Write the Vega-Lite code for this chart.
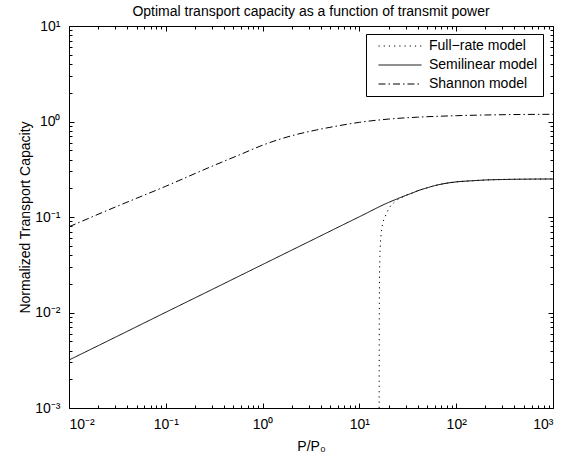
{
  "$schema": "https://vega.github.io/schema/vega-lite/v6.json",
  "width": 484,
  "height": 382,
  "autosize": {"type": "none"},
  "padding": {"left": 69, "top": 26, "right": 21, "bottom": 54},
  "background": "white",
  "title": {"text": "Optimal transport capacity as a function of transmit power", "fontSize": 14, "fontWeight": "normal", "font": "Liberation Sans", "color": "black", "anchor": "middle", "frame": "group", "offset": 0},
  "config": {
    "view": {"stroke": null},
    "font": "Liberation Sans",
    "axis": {"grid": false, "domainColor": "black", "tickColor": "black", "labelColor": "black", "titleColor": "black", "labelFontSize": 14, "titleFontSize": 14, "titleFontWeight": "normal", "labelFont": "Liberation Sans", "titleFont": "Liberation Sans", "domainWidth": 1, "tickWidth": 1}
  },
  "data": {"values": [
    {"model": "Full-rate model", "p": 16.0, "c": 0.001},
    {"model": "Full-rate model", "p": 16.01, "c": 0.002},
    {"model": "Full-rate model", "p": 16.03, "c": 0.005},
    {"model": "Full-rate model", "p": 16.06, "c": 0.01},
    {"model": "Full-rate model", "p": 16.12, "c": 0.02},
    {"model": "Full-rate model", "p": 16.25, "c": 0.035},
    {"model": "Full-rate model", "p": 16.45, "c": 0.05},
    {"model": "Full-rate model", "p": 16.8, "c": 0.068},
    {"model": "Full-rate model", "p": 17.4, "c": 0.085},
    {"model": "Full-rate model", "p": 18.4, "c": 0.1},
    {"model": "Full-rate model", "p": 19.5, "c": 0.115},
    {"model": "Full-rate model", "p": 20.7, "c": 0.128},
    {"model": "Full-rate model", "p": 22.5, "c": 0.14},
    {"model": "Full-rate model", "p": 24.5, "c": 0.151},
    {"model": "Full-rate model", "p": 27, "c": 0.159},
    {"model": "Full-rate model", "p": 30, "c": 0.168},
    {"model": "Full-rate model", "p": 35, "c": 0.178},
    {"model": "Full-rate model", "p": 40, "c": 0.188},
    {"model": "Full-rate model", "p": 50, "c": 0.202},
    {"model": "Full-rate model", "p": 60, "c": 0.213},
    {"model": "Full-rate model", "p": 80, "c": 0.226},
    {"model": "Full-rate model", "p": 100, "c": 0.233},
    {"model": "Full-rate model", "p": 150, "c": 0.24},
    {"model": "Full-rate model", "p": 200, "c": 0.244},
    {"model": "Full-rate model", "p": 300, "c": 0.247},
    {"model": "Full-rate model", "p": 500, "c": 0.249},
    {"model": "Full-rate model", "p": 1000, "c": 0.25},
    {"model": "Shannon model", "p": 0.01, "c": 0.079},
    {"model": "Shannon model", "p": 0.03, "c": 0.127},
    {"model": "Shannon model", "p": 0.1, "c": 0.21},
    {"model": "Shannon model", "p": 0.3, "c": 0.34},
    {"model": "Shannon model", "p": 0.6, "c": 0.455},
    {"model": "Shannon model", "p": 1, "c": 0.565},
    {"model": "Shannon model", "p": 2, "c": 0.71},
    {"model": "Shannon model", "p": 3.6, "c": 0.815},
    {"model": "Shannon model", "p": 6, "c": 0.9},
    {"model": "Shannon model", "p": 10, "c": 0.98},
    {"model": "Shannon model", "p": 20, "c": 1.06},
    {"model": "Shannon model", "p": 40, "c": 1.11},
    {"model": "Shannon model", "p": 100, "c": 1.15},
    {"model": "Shannon model", "p": 200, "c": 1.17},
    {"model": "Shannon model", "p": 500, "c": 1.185},
    {"model": "Shannon model", "p": 1000, "c": 1.19},
    {"model": "Semilinear model", "p": 0.01, "c": 0.00318},
    {"model": "Semilinear model", "p": 0.03, "c": 0.0055},
    {"model": "Semilinear model", "p": 0.1, "c": 0.01006},
    {"model": "Semilinear model", "p": 0.3, "c": 0.0174},
    {"model": "Semilinear model", "p": 1, "c": 0.0318},
    {"model": "Semilinear model", "p": 3, "c": 0.0551},
    {"model": "Semilinear model", "p": 10, "c": 0.1006},
    {"model": "Semilinear model", "p": 20, "c": 0.142},
    {"model": "Semilinear model", "p": 25, "c": 0.156},
    {"model": "Semilinear model", "p": 30, "c": 0.168},
    {"model": "Semilinear model", "p": 35, "c": 0.178},
    {"model": "Semilinear model", "p": 40, "c": 0.188},
    {"model": "Semilinear model", "p": 50, "c": 0.202},
    {"model": "Semilinear model", "p": 60, "c": 0.213},
    {"model": "Semilinear model", "p": 80, "c": 0.226},
    {"model": "Semilinear model", "p": 100, "c": 0.233},
    {"model": "Semilinear model", "p": 150, "c": 0.24},
    {"model": "Semilinear model", "p": 200, "c": 0.244},
    {"model": "Semilinear model", "p": 300, "c": 0.247},
    {"model": "Semilinear model", "p": 500, "c": 0.249},
    {"model": "Semilinear model", "p": 1000, "c": 0.25}
  ]},
  "layer": [
    {
      "mark": {"type": "line", "strokeWidth": 1, "color": "black", "interpolate": "monotone"},
      "encoding": {
        "x": {"field": "p", "type": "quantitative", "scale": {"type": "log", "domain": [0.01, 1000], "nice": false},
          "axis": {"orient": "bottom", "title": "P/P₀", "titlePadding": 8,
            "values": [0.01,0.02,0.03,0.04,0.05,0.06,0.07,0.08,0.09,0.1,0.2,0.3,0.4,0.5,0.6,0.7,0.8,0.9,1,2,3,4,5,6,7,8,9,10,20,30,40,50,60,70,80,90,100,200,300,400,500,600,700,800,900,1000],
            "tickSize": {"condition": {"test": "indexof([0.001,0.01,0.1,1,10,100,1000], datum.value) >= 0", "value": -5}, "value": -3},
            "labelPadding": 14,
            "labelExpr": "datum.value == 0.01 ? '10⁻²' : datum.value == 0.1 ? '10⁻¹' : datum.value == 1 ? '10⁰' : datum.value == 10 ? '10¹' : datum.value == 100 ? '10²' : datum.value == 1000 ? '10³' : ''"}},
        "y": {"field": "c", "type": "quantitative", "scale": {"type": "log", "domain": [0.001, 10], "nice": false},
          "axis": {"orient": "left", "title": "Normalized Transport Capacity", "titlePadding": 2,
            "values": [0.001,0.002,0.003,0.004,0.005,0.006,0.007,0.008,0.009,0.01,0.02,0.03,0.04,0.05,0.06,0.07,0.08,0.09,0.1,0.2,0.3,0.4,0.5,0.6,0.7,0.8,0.9,1,2,3,4,5,6,7,8,9,10],
            "tickSize": {"condition": {"test": "indexof([0.001,0.01,0.1,1,10,100,1000], datum.value) >= 0", "value": -5}, "value": -3},
            "labelPadding": 14,
            "labelExpr": "datum.value == 0.001 ? '10⁻³' : datum.value == 0.01 ? '10⁻²' : datum.value == 0.1 ? '10⁻¹' : datum.value == 1 ? '10⁰' : datum.value == 10 ? '10¹' : ''"}},
        "strokeDash": {"field": "model", "type": "nominal",
          "scale": {"domain": ["Full-rate model", "Semilinear model", "Shannon model"], "range": [[1.2, 4], [1, 0], [7, 3, 1.5, 3]]},
          "legend": {"title": null, "orient": "none", "legendX": 297, "legendY": 8, "symbolType": "stroke", "symbolSize": 1849, "clipHeight": 14, "rowPadding": 5, "padding": 5, "strokeColor": "black", "fillColor": "white", "labelFontSize": 14, "labelFont": "Liberation Sans", "labelColor": "black", "symbolStrokeWidth": 1, "symbolStrokeColor": "black", "symbolOffset": 7, "labelOffset": 7,
            "labelExpr": "datum.label == 'Full-rate model' ? 'Full−rate model' : datum.label"}
        }
      }
    },
    {
      "mark": {"type": "line", "strokeOpacity": 0},
      "encoding": {
        "detail": {"field": "model"},
        "x": {"field": "p", "type": "quantitative", "scale": {"type": "log", "domain": [0.01, 1000], "nice": false},
          "axis": {"orient": "top", "title": null, "labels": false,
            "values": [0.01,0.02,0.03,0.04,0.05,0.06,0.07,0.08,0.09,0.1,0.2,0.3,0.4,0.5,0.6,0.7,0.8,0.9,1,2,3,4,5,6,7,8,9,10,20,30,40,50,60,70,80,90,100,200,300,400,500,600,700,800,900,1000],
            "tickSize": {"condition": {"test": "indexof([0.001,0.01,0.1,1,10,100,1000], datum.value) >= 0", "value": -5}, "value": -3}}},
        "y": {"field": "c", "type": "quantitative", "scale": {"type": "log", "domain": [0.001, 10], "nice": false},
          "axis": {"orient": "right", "title": null, "labels": false,
            "values": [0.001,0.002,0.003,0.004,0.005,0.006,0.007,0.008,0.009,0.01,0.02,0.03,0.04,0.05,0.06,0.07,0.08,0.09,0.1,0.2,0.3,0.4,0.5,0.6,0.7,0.8,0.9,1,2,3,4,5,6,7,8,9,10],
            "tickSize": {"condition": {"test": "indexof([0.001,0.01,0.1,1,10,100,1000], datum.value) >= 0", "value": -5}, "value": -3}}}
      }
    }
  ],
  "resolve": {"axis": {"x": "independent", "y": "independent"}}
}
